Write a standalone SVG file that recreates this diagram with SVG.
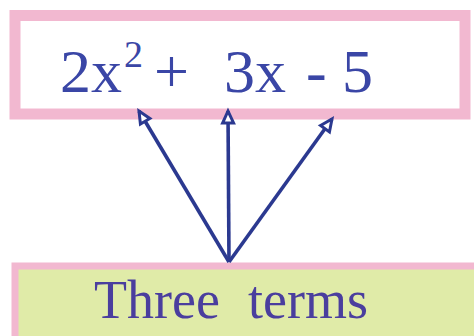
<svg xmlns="http://www.w3.org/2000/svg" width="474" height="336" viewBox="0 0 474 336">
<defs>
<style>
.box{stroke:#F2B8D0;}
.t{font-family:"Liberation Serif","Times New Roman",serif;fill:#3A46A6;}
.c{stroke:#2B3990;stroke-width:3.6;fill:none;}
</style>
<marker id="ah" markerUnits="userSpaceOnUse" markerWidth="18" markerHeight="16" refX="14" refY="8" orient="auto">
<path d="M2,2.5 L14,8 L2,13.5 Z" fill="#ffffff" stroke="#2B3990" stroke-width="3" stroke-linejoin="miter"/>
</marker>
</defs>
<rect width="474" height="336" fill="#ffffff"/>
<g id="expr">
<rect class="box" x="15" y="15.5" width="450" height="98.5" fill="#ffffff" stroke-width="11"/>
<text class="t" font-size="62" y="92"><tspan x="60">2x</tspan><tspan x="124" y="67" font-size="38">2</tspan><tspan x="154" y="92">+</tspan><tspan x="224">3x</tspan><tspan x="306">-</tspan><tspan x="342">5</tspan></text>
</g>
<g id="terms">
<rect class="box" x="15" y="266" width="480" height="90" fill="#E0EBA8" stroke-width="7"/>
<text class="t" font-size="54" y="318" style="fill:#4A3E9E"><tspan x="94">Three</tspan><tspan x="248">terms</tspan></text>
</g>
<g id="connectors">
<path class="c" d="M229,262 L139,111" marker-end="url(#ah)"/>
<path class="c" d="M229,262 L228,111" marker-end="url(#ah)"/>
<path class="c" d="M229,262 L332,119" marker-end="url(#ah)"/>
</g>
</svg>
